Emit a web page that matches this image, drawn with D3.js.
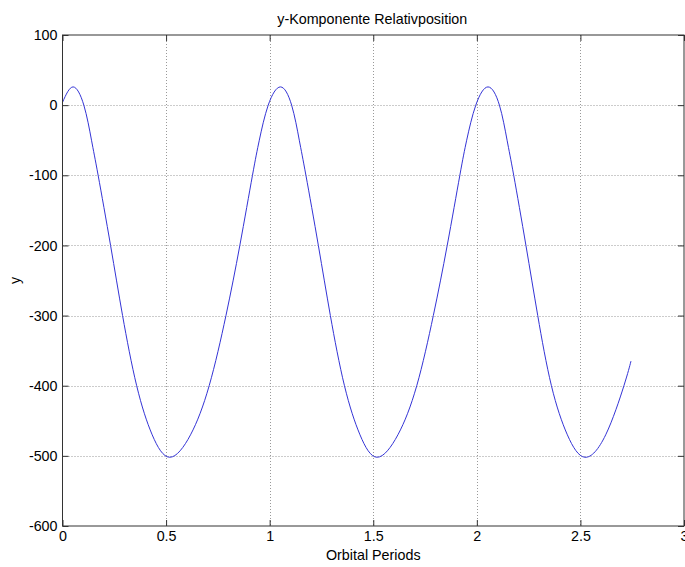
<!DOCTYPE html>
<html>
<head>
<meta charset="utf-8">
<script src="https://cdn.jsdelivr.net/npm/d3@7"></script>
<style>
  html, body { margin: 0; padding: 0; background: #fff; }
  svg { display: block; }
  text { font-family: Arial, "Liberation Sans", Helvetica, sans-serif; fill: #000; }
</style>
</head>
<body>
<svg id="chart" width="685" height="567"></svg>
<script>
// ---- data ----
const titleText = "y-Komponente Relativposition";
const xLabelText = "Orbital Periods";
const yLabelText = "y";
const xTicks = [0, 0.5, 1, 1.5, 2, 2.5, 3];
const xTickLabels = ["0", "0.5", "1", "1.5", "2", "2.5", "3"];
const yTicks = [100, 0, -100, -200, -300, -400, -500, -600];
const yTickLabels = ["100", "0", "-100", "-200", "-300", "-400", "-500", "-600"];
const xDomain = [0, 3];
const yDomain = [-600, 100];

// orbital periods (t) and y-component (y)
const tValues = [
  0, 0.051,
  0.103, 0.140, 0.172, 0.232, 0.290, 0.358, 0.433, 0.518, 0.618, 0.708, 0.789, 0.856, 0.917, 0.950, 0.993, 1.052,
  1.106, 1.143, 1.175, 1.235, 1.293, 1.361, 1.436, 1.519, 1.619, 1.710, 1.790, 1.857, 1.918, 1.951, 1.995, 2.054,
  2.109, 2.146, 2.178, 2.237, 2.294, 2.360, 2.437, 2.522, 2.622, 2.710, 2.744
];
const yValues = [
  4, 26,
  0, -50, -100, -200, -300, -400, -470, -502, -470, -400, -300, -200, -100, -50, 0, 26,
  0, -50, -100, -200, -300, -400, -470, -502, -470, -400, -300, -200, -100, -50, 0, 26,
  0, -50, -100, -200, -300, -400, -470, -502, -470, -400, -365
];

// ---- layout ----
const margin = { left: 62.5, right: 684, top: 35, bottom: 526 };
const fontSize = 14.3;
const svg = d3.select("#chart");

const x = d3.scaleLinear().domain(xDomain).range([margin.left, margin.right]);
const y = d3.scaleLinear().domain(yDomain).range([margin.bottom, margin.top]);

// grid
const grid = svg.append("g").attr("class", "grid");
grid.selectAll("line.gx").data(xTicks.slice(1, -1)).enter().append("line")
  .attr("x1", d => Math.round(x(d)) + 0.5).attr("x2", d => Math.round(x(d)) + 0.5)
  .attr("y1", margin.top).attr("y2", margin.bottom)
  .attr("stroke", "#999").attr("stroke-width", 1).attr("stroke-dasharray", "1,2");
grid.selectAll("line.gy").data(yTicks.slice(1, -1)).enter().append("line")
  .attr("y1", d => Math.round(y(d)) + 0.5).attr("y2", d => Math.round(y(d)) + 0.5)
  .attr("x1", margin.left).attr("x2", margin.right)
  .attr("stroke", "#999").attr("stroke-width", 1).attr("stroke-dasharray", "1,2");

// data line
const data = tValues.map((t, i) => ({ t: t, v: yValues[i] }));
const line = d3.line().x(d => x(d.t)).y(d => y(d.v)).curve(d3.curveNatural);
svg.append("path").datum(data)
  .attr("d", line)
  .attr("fill", "none").attr("stroke", "#3434d6").attr("stroke-width", 1);

// axes with inward ticks on all sides
const tickLen = 6;
const axisColor = "#333";
function styleAxis(g) {
  g.select(".domain").remove();
  g.selectAll(".tick line").attr("stroke", axisColor);
  g.selectAll(".tick text").attr("font-size", fontSize).attr("fill", "#000")
    .attr("font-family", "Arial, 'Liberation Sans', sans-serif");
}
const xAxisB = d3.axisBottom(x).tickValues(xTicks).tickFormat((d, i) => xTickLabels[i])
  .tickSizeInner(-tickLen).tickSizeOuter(0).tickPadding(5);
svg.append("g").attr("transform", `translate(0,${margin.bottom})`).call(xAxisB).call(styleAxis);
const xAxisT = d3.axisTop(x).tickValues(xTicks).tickFormat("").tickSizeInner(-tickLen).tickSizeOuter(0);
svg.append("g").attr("transform", `translate(0,${margin.top})`).call(xAxisT).call(styleAxis);
const yAxisL = d3.axisLeft(y).tickValues(yTicks).tickFormat((d, i) => yTickLabels[i])
  .tickSizeInner(-tickLen).tickSizeOuter(0).tickPadding(5);
svg.append("g").attr("transform", `translate(${margin.left},0)`).call(yAxisL).call(styleAxis);
const yAxisR = d3.axisRight(y).tickValues(yTicks).tickFormat("").tickSizeInner(-tickLen).tickSizeOuter(0);
svg.append("g").attr("transform", `translate(${margin.right},0)`).call(yAxisR).call(styleAxis);

// box
svg.append("rect")
  .attr("x", margin.left).attr("y", margin.top)
  .attr("width", margin.right - margin.left).attr("height", margin.bottom - margin.top)
  .attr("fill", "none").attr("stroke", axisColor).attr("stroke-width", 1);

// titles
svg.append("text").attr("x", (margin.left + margin.right) / 2 - 1).attr("y", 24)
  .attr("text-anchor", "middle").attr("font-size", fontSize).text(titleText);
svg.append("text").attr("x", (margin.left + margin.right) / 2).attr("y", 560)
  .attr("text-anchor", "middle").attr("font-size", fontSize).text(xLabelText);
svg.append("text").attr("transform", `translate(20,${(margin.top + margin.bottom) / 2}) rotate(-90)`)
  .attr("text-anchor", "middle").attr("font-size", fontSize).text(yLabelText);
</script>
</body>
</html>
